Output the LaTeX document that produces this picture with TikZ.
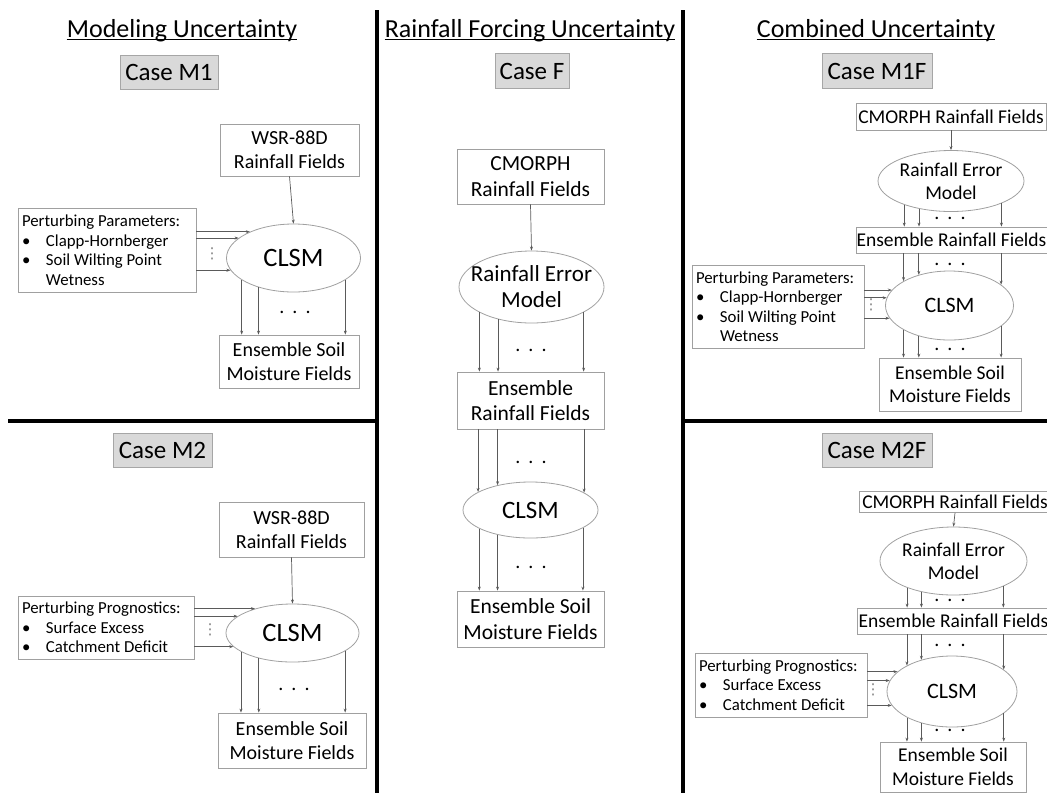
\documentclass[tikz,border=0pt]{standalone}
\usepackage{fontspec}
\setmainfont{Carlito}
\newfontfamily\symfont{DejaVu Sans}
\usetikzlibrary{shapes.geometric,arrows.meta}

\definecolor{linegray}{HTML}{A0A0A0}
\definecolor{arrgray}{HTML}{5A5A5A}
\definecolor{casegray}{HTML}{D9D9D9}

\newcommand{\bul}{\makebox[24pt][l]{\textbullet}}
\newcommand{\ensdots}{.\hspace{8pt}.\hspace{8pt}.}

\begin{document}
\begin{tikzpicture}[x=1pt,y=-1pt,
  every node/.style={inner sep=0pt},
  divider/.style={line width=3.5pt},
  title/.style={anchor=base, font=\fontsize{26}{31}\selectfont},
  uline/.style={line width=1.3pt},
  casebox/.style={draw=gray!70, fill=casegray, line width=0.8pt, font=\fontsize{25}{30}\selectfont},
  box/.style={draw=linegray, line width=0.8pt, align=center, font=\fontsize{20}{24}\selectfont},
  ell/.style={draw=linegray, line width=0.8pt, ellipse, align=center, inner xsep=-60pt, inner ysep=-20pt},
  pbox/.style={draw=linegray, line width=0.8pt, align=flush left, inner xsep=4pt, font=\fontsize{16.8}{19.5}\selectfont},
  arr/.style={draw=arrgray, line width=0.7pt, -{Stealth[length=4pt,width=3pt]}},
  dts/.style={font=\fontsize{20}{24}\selectfont},
  vdts/.style={text=gray, font=\symfont\fontsize{15}{15}\selectfont}]
  \useasboundingbox (0,0) rectangle (1047,793);

  % dividers
  \draw[divider] (377,10) -- (377,793);
  \draw[divider] (683,10) -- (683,793);
  \draw[divider] (8,421) -- (377,421);
  \draw[divider] (683,421) -- (1047,421);

  % column titles
  \node[title] (ttlM) at (182,37) {Modeling Uncertainty};
  \node[title] (ttlF) at (530,37) {Rainfall Forcing Uncertainty};
  \node[title] (ttlC) at (876,37) {Combined Uncertainty};
  \foreach \t in {ttlM,ttlF,ttlC}
    \draw[uline] ([yshift=-2.5pt]\t.base west) -- ([yshift=-2.5pt]\t.base east);

  % case M1
  \node[casebox, minimum width=98, minimum height=34] (caseM1) at (169,72) {Case M1};
  \node[box, minimum width=139, minimum height=52] (wsrA) at (289.5,150) {WSR-88D\\Rainfall Fields};
  \node[ell, minimum width=134, minimum height=68, font=\fontsize{26.5}{31}\selectfont] (clA) at (293.5,258) {CLSM};
  \node[box, minimum width=140, minimum height=53] (esA) at (289,361.5) {Ensemble Soil\\Moisture Fields};
  \node[pbox, minimum height=84, text width=170] (pA) at (107,250)
    {\mbox{Perturbing Parameters:}\\ \bul Clapp-Hornberger\\ \bul Soil Wilting Point\\ \hspace*{24pt}Wetness};
  \draw[arr] (wsrA.south) -- (clA.north);
  \foreach \a in {149,160,191}
    \draw[arr] (clA.\a -| pA.east) -- (clA.\a);
  \foreach \a in {203,220,337}
    \draw[arr] (clA.\a) -- (clA.\a |- esA.north);
  \node[vdts] (vdA) at (212,254) {⋮};
  \node[dts] (dA) at (295,312) {\ensdots};

  % case M2
  \node[casebox, minimum width=99, minimum height=34] (caseM2) at (162.5,450) {Case M2};
  \node[box, minimum width=145, minimum height=55] (wsrB) at (291.5,529.5) {WSR-88D\\Rainfall Fields};
  \node[ell, minimum width=133, minimum height=58, font=\fontsize{26.5}{31}\selectfont] (clB) at (292.5,633) {CLSM};
  \node[box, minimum width=148, minimum height=55] (esB) at (292,740.5) {Ensemble Soil\\Moisture Fields};
  \node[pbox, minimum height=63, text width=168] (pB) at (106,627.5)
    {\mbox{Perturbing Prognostics:}\\ \bul Surface Excess\\ \bul Catchment Deficit};
  \draw[arr] (wsrB.south) -- (clB.north);
  \foreach \a in {147,163,193}
    \draw[arr] (clB.\a -| pB.east) -- (clB.\a);
  \foreach \a in {200,217,341}
    \draw[arr] (clB.\a) -- (clB.\a |- esB.north);
  \node[vdts] (vdB) at (210,630) {⋮};
  \node[dts] (dB) at (294,689) {\ensdots};

  % case F
  \node[casebox, minimum width=74, minimum height=35] (caseF) at (532,71) {Case F};
  \node[box, minimum width=147, minimum height=55, font=\fontsize{21.5}{25.5}\selectfont] (cmF) at (530.5,176.5) {CMORPH\\Rainfall Fields};
  \node[ell, minimum width=145, minimum height=72, font=\fontsize{23}{26}\selectfont] (erF) at (531.5,287) {Rainfall Error\\Model};
  \node[box, minimum width=147, minimum height=57, font=\fontsize{21.5}{25.5}\selectfont] (ensRF) at (530.5,400.5) {Ensemble\\Rainfall Fields};
  \node[ell, minimum width=135, minimum height=56, font=\fontsize{25}{30}\selectfont] (clF) at (530.5,510) {CLSM};
  \node[box, minimum width=147, minimum height=56, font=\fontsize{21.5}{25.5}\selectfont] (esF) at (530.5,619) {Ensemble Soil\\Moisture Fields};
  \draw[arr] (cmF.south) -- (erF.north);
  \foreach \a in {206,224,334}
    \draw[arr] (erF.\a) -- (erF.\a |- ensRF.north);
  \foreach \a in {161,143,18}
    \draw[arr] (clF.\a |- ensRF.south) -- (clF.\a);
  \foreach \a in {200,217,341}
    \draw[arr] (clF.\a) -- (clF.\a |- esF.north);
  \node[dts] (dF1) at (531,350) {\ensdots};
  \node[dts] (dF2) at (531,462) {\ensdots};
  \node[dts] (dF3) at (531,567) {\ensdots};

  % case M1F
  \node[casebox, minimum width=110, minimum height=35] (caseM1F) at (877,71) {Case M1F};
  \node[box, minimum width=190, minimum height=27, font=\fontsize{19.5}{23.5}\selectfont] (cmC) at (951,116.5) {CMORPH Rainfall Fields};
  \node[ell, minimum width=146, minimum height=61, font=\fontsize{19.5}{23}\selectfont] (erC) at (951,181) {Rainfall Error\\Model};
  \node[box, minimum width=191, minimum height=26, font=\fontsize{19.5}{23.5}\selectfont] (ensRC) at (951.5,240) {Ensemble Rainfall Fields};
  \node[ell, minimum width=128, minimum height=69, font=\fontsize{22}{26}\selectfont] (clC) at (949.5,305.5) {CLSM};
  \node[box, minimum width=142, minimum height=53, font=\fontsize{19.5}{23.5}\selectfont] (esC) at (950,384.5) {Ensemble Soil\\Moisture Fields};
  \node[pbox, minimum height=83, text width=164] (pC) at (778,306.5)
    {\mbox{Perturbing Parameters:}\\ \bul Clapp-Hornberger\\ \bul Soil Wilting Point\\ \hspace*{24pt}Wetness};
  \draw[arr] (cmC.south) -- (erC.north);
  \foreach \a in {207,221,336}
    \draw[arr] (erC.\a) -- (erC.\a |- ensRC.north);
  \foreach \a in {152,135,22}
    \draw[arr] (clC.\a |- ensRC.south) -- (clC.\a);
  \foreach \a in {165,173,192}
    \draw[arr] (clC.\a -| pC.east) -- (clC.\a);
  \foreach \a in {208,225,338}
    \draw[arr] (clC.\a) -- (clC.\a |- esC.north);
  \node[vdts] (vdC) at (871,305) {⋮};
  \node[dts] (dC1) at (950,218) {\ensdots};
  \node[dts] (dC2) at (950,264) {\ensdots};
  \node[dts] (dC3) at (950,349) {\ensdots};

  % case M2F
  \node[casebox, minimum width=110, minimum height=34] (caseM2F) at (877,450) {Case M2F};
  \node[box, minimum width=192, minimum height=21, font=\fontsize{19.5}{23.5}\selectfont] (cmD) at (955,502) {CMORPH Rainfall Fields};
  \node[ell, minimum width=147, minimum height=68, font=\fontsize{19.5}{23}\selectfont] (erD) at (953.5,561) {Rainfall Error\\Model};
  \node[box, minimum width=193, minimum height=26, font=\fontsize{19.5}{23.5}\selectfont] (ensRD) at (953.5,621) {Ensemble Rainfall Fields};
  \node[ell, minimum width=130, minimum height=71, font=\fontsize{22}{26}\selectfont] (clD) at (952,691.5) {CLSM};
  \node[box, minimum width=146, minimum height=50, font=\fontsize{19.5}{23.5}\selectfont] (esD) at (953,767) {Ensemble Soil\\Moisture Fields};
  \node[pbox, minimum height=64, text width=164] (pD) at (781,685)
    {\mbox{Perturbing Prognostics:}\\ \bul Surface Excess\\ \bul Catchment Deficit};
  \draw[arr] (cmD.south) -- (erD.north);
  \foreach \a in {210,224,333}
    \draw[arr] (erD.\a) -- (erD.\a |- ensRD.north);
  \foreach \a in {150,134,23}
    \draw[arr] (clD.\a |- ensRD.south) -- (clD.\a);
  \foreach \a in {160,170,193}
    \draw[arr] (clD.\a -| pD.east) -- (clD.\a);
  \foreach \a in {210,226,337}
    \draw[arr] (clD.\a) -- (clD.\a |- esD.north);
  \node[vdts] (vdD) at (873,690) {⋮};
  \node[dts] (dD1) at (950,600) {\ensdots};
  \node[dts] (dD2) at (950,645) {\ensdots};
  \node[dts] (dD3) at (950,730) {\ensdots};
\end{tikzpicture}
\end{document}
